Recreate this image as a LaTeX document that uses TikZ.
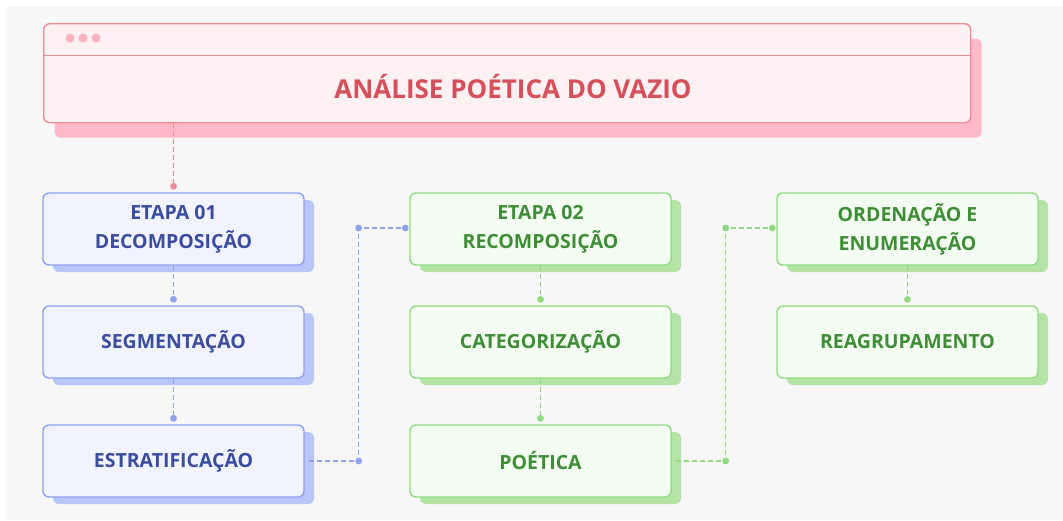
\documentclass[tikz,border=0pt]{standalone}
\usepackage{fontspec}
\setmainfont{Open Sans}
\usetikzlibrary{shadows,calc}
\definecolor{bgc}{HTML}{F7F7F7}
\definecolor{pkfill}{HTML}{FEF1F3}
\definecolor{pkline}{HTML}{F08A95}
\definecolor{pkshadow}{HTML}{FFB8C5}
\definecolor{pktext}{HTML}{D6505C}
\definecolor{pkdot}{HTML}{FBB3C0}
\definecolor{blfill}{HTML}{F1F4FE}
\definecolor{blline}{HTML}{8DA3EE}
\definecolor{blshadow}{HTML}{B9C6FA}
\definecolor{bltext}{HTML}{3C4C9E}
\definecolor{grfill}{HTML}{F3FDF1}
\definecolor{grline}{HTML}{8FDC7F}
\definecolor{grshadow}{HTML}{B3E4A6}
\definecolor{grtext}{HTML}{3F8E37}
\begin{document}
\begin{tikzpicture}[x=1pt,y=-1pt,
  boxbase/.style={rounded corners=6pt, minimum width=261pt, minimum height=72pt,
    line width=1.4pt, align=center, inner sep=0pt,
    font=\fontsize{19.5}{29}\selectfont\bfseries},
  bluebox/.style={boxbase, draw=blline, fill=blfill, text=bltext,
    drop shadow={shadow xshift=10pt, shadow yshift=-7pt, fill=blshadow, opacity=1}},
  greenbox/.style={boxbase, draw=grline, fill=grfill, text=grtext,
    drop shadow={shadow xshift=10pt, shadow yshift=-7pt, fill=grshadow, opacity=1}},
  bdash/.style={draw=blline, line width=1.4pt, dash pattern=on 5pt off 3pt},
  gdash/.style={draw=grline, line width=1.4pt, dash pattern=on 5pt off 3pt},
  pdash/.style={draw=pkline, line width=1.4pt, dash pattern=on 5pt off 3pt},
]
\useasboundingbox (0,0) rectangle (1063,520);
\fill[white] (0,0) rectangle (1063,520);
\fill[bgc] (6,6) rectangle (1063,520);

% title window
\node[anchor=north west, rounded corners=6pt, minimum width=927pt, minimum height=99pt,
  draw=pkline, fill=pkfill, line width=1.4pt,
  drop shadow={shadow xshift=11pt, shadow yshift=-15pt, fill=pkshadow, opacity=1}] (title) at (43,23) {};
\draw[pkline, line width=1.4pt] (title.west |- 0,55.5) -- (title.east |- 0,55.5);
\foreach \x in {70,83,96} \fill[pkdot] (\x,38) circle (4.6pt);
\node[text=pktext, font=\fontsize{26}{30}\selectfont\bfseries] (ttext) at (513,87) {ANÁLISE POÉTICA DO VAZIO};

% boxes
\node[bluebox] (b1) at (173.5,229) {ETAPA 01\\DECOMPOSIÇÃO};
\node[bluebox] (b2) at (173.5,342) {SEGMENTAÇÃO};
\node[bluebox] (b3) at (173.5,461) {ESTRATIFICAÇÃO};
\node[greenbox] (g1) at (540.5,229) {ETAPA 02\\RECOMPOSIÇÃO};
\node[greenbox] (g2) at (540.5,342) {CATEGORIZAÇÃO};
\node[greenbox] (g3) at (540.5,461) {POÉTICA};
\node[greenbox] (h1) at (907.5,229) {ORDENAÇÃO E\\ENUMERAÇÃO};
\node[greenbox] (h2) at (907.5,342) {REAGRUPAMENTO};

% title connector
\coordinate (t0) at (b1.north |- title.south);
\coordinate (t1) at ($(b1.north)+(0,-6)$);
\draw[pdash] (t0) -- (t1);
\fill[pkline] (t1) circle (3.4pt);

% blue connectors
\coordinate (a1) at ($(b2.north)+(0,-6)$);
\coordinate (a2) at ($(b3.north)+(0,-6)$);
\draw[bdash] (b1.south) -- (a1);
\draw[bdash] (b2.south) -- (a2);
\fill[blline] (a1) circle (3.4pt) (a2) circle (3.4pt);
\coordinate (e1) at ($(b3.east)+(54,0)$);
\coordinate (e2) at (e1 |- 0,228);
\coordinate (e3) at ($(g1.west |- e2)+(-4,0)$);
\draw[bdash] ($(b3.east)+(4,0)$) -- (e1) -- (e2) -- (e3);
\fill[blline] (e1) circle (3.4pt) (e2) circle (3.4pt) (e3) circle (3.4pt);

% green connectors
\coordinate (c1) at ($(g2.north)+(0,-6)$);
\coordinate (c2) at ($(g3.north)+(0,-6)$);
\coordinate (c3) at ($(h2.north)+(0,-6)$);
\draw[gdash] (g1.south) -- (c1);
\draw[gdash] (g2.south) -- (c2);
\draw[gdash] (h1.south) -- (c3);
\fill[grline] (c1) circle (3.4pt) (c2) circle (3.4pt) (c3) circle (3.4pt);
\coordinate (f1) at ($(g3.east)+(54,0)$);
\coordinate (f2) at (f1 |- 0,228);
\coordinate (f3) at ($(h1.west |- f2)+(-4,0)$);
\draw[gdash] ($(g3.east)+(4,0)$) -- (f1) -- (f2) -- (f3);
\fill[grline] (f1) circle (3.4pt) (f2) circle (3.4pt) (f3) circle (3.4pt);
\end{tikzpicture}
\end{document}
